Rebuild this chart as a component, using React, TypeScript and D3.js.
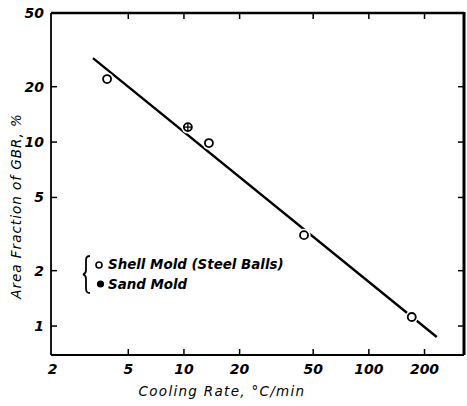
import React from "react";
import * as d3 from "d3";

const coolingRate = [3.84, 10.5, 13.65, 44.6, 170.6];
const gbrFraction = [22.0, 12.06, 9.88, 3.12, 1.12];
const pointKind = ["shell", "both", "shell", "shell", "shell"];
const fitX = [3.22, 233];
const fitY = [28.6, 0.872];
const xTicks = [2, 5, 10, 20, 50, 100, 200];
const yTicks = [1, 2, 5, 10, 20, 50];
const legendLabels = ["Shell Mold (Steel Balls)", "Sand Mold"];

const W = 467, H = 406;
const L = 51, R = 464, T = 13, B = 355;

export default function App() {
  const x = d3.scaleLog().domain([1.91, 327]).range([L, R]);
  const y = d3.scaleLog().domain([0.696, 50.3]).range([B, T]);
  const font = "'DejaVu Sans', sans-serif";
  const line = d3.line<number>().x((_, i) => x(fitX[i])).y((_, i) => y(fitY[i]));
  return (
    <svg width={W} height={H} style={{ position: "absolute", left: 0, top: 0, background: "#fff" }}>
      <rect x={0} y={0} width={W} height={H} fill="#fff" />
      {/* frame */}
      <line x1={L} y1={T} x2={L} y2={B} stroke="#000" strokeWidth={1.8} />
      <line x1={L} y1={B} x2={R} y2={B} stroke="#000" strokeWidth={1.8} />
      <line x1={L} y1={T} x2={R} y2={T} stroke="#000" strokeWidth={2.4} />
      <line x1={R} y1={T - 1} x2={R} y2={B} stroke="#000" strokeWidth={3} />
      {/* ticks */}
      {xTicks.filter((v) => v > 2).map((v) => (
        <g key={"xt" + v}>
          <line x1={x(v)} x2={x(v)} y1={B} y2={B - 6} stroke="#000" strokeWidth={1.5} />
          <line x1={x(v)} x2={x(v)} y1={T} y2={T + 6} stroke="#000" strokeWidth={1.5} />
        </g>
      ))}
      {yTicks.filter((v) => v < 50).map((v) => (
        <g key={"yt" + v}>
          <line x1={L} x2={L + 6} y1={y(v)} y2={y(v)} stroke="#000" strokeWidth={1.5} />
          <line x1={R} x2={R - 6} y1={y(v)} y2={y(v)} stroke="#000" strokeWidth={1.5} />
        </g>
      ))}
      {/* tick labels */}
      {xTicks.map((v) => (
        <text key={"xl" + v} x={x(v) - (v === 2 ? 2 : 0)} y={B + 19} textAnchor="middle" fontFamily={font}
          fontStyle="italic" fontWeight="bold" fontSize={14}>{v}</text>
      ))}
      {yTicks.map((v) => (
        <text key={"yl" + v} x={44} y={y(v) + 5} textAnchor="end" fontFamily={font}
          fontStyle="italic" fontWeight="bold" fontSize={14}>{v}</text>
      ))}
      {/* axis titles */}
      <text x={222} y={396} textAnchor="middle" fontFamily={font} fontStyle="italic" fontSize={13.5}
        letterSpacing={1.3}>Cooling Rate, °C/min</text>
      <text transform="translate(21,206) rotate(-90)" textAnchor="middle" fontFamily={font} fontStyle="italic"
        fontSize={13.5} letterSpacing={1}>Area Fraction of GBR, %</text>
      {/* fit line */}
      <path d={line(fitX) || ""} fill="none" stroke="#000" strokeWidth={2.4} />
      {/* points */}
      {coolingRate.map((c, i) => {
        const cx = x(c), cy = y(gbrFraction[i]);
        return (
          <g key={"p" + i}>
            <circle cx={cx} cy={cy} r={6.5} fill="#fff" />
            <circle cx={cx} cy={cy} r={4} fill="#fff" stroke="#000" strokeWidth={1.8} />
            {pointKind[i] === "both" && (
              <g stroke="#000" strokeWidth={1.3}>
                <line x1={cx - 4} x2={cx + 4} y1={cy} y2={cy} />
                <line x1={cx} x2={cx} y1={cy - 4} y2={cy + 4} />
              </g>
            )}
          </g>
        );
      })}
      {/* legend */}
      <path d="M90,256 C86,256 86,258 86,262 L86,270 C86,273 85,274 83,274.5 C85,275 86,276 86,279 L86,288 C86,292 87,293 90,293"
        fill="none" stroke="#000" strokeWidth={1.8} />
      <circle cx={99} cy={265} r={3} fill="#fff" stroke="#000" strokeWidth={1.6} />
      <circle cx={100.5} cy={284} r={3.6} fill="#000" />
      <text x={108} y={269} fontFamily={font} fontStyle="italic" fontWeight="bold" fontSize={13.4}>{legendLabels[0]}</text>
      <text x={108} y={289} fontFamily={font} fontStyle="italic" fontWeight="bold" fontSize={13.4}>{legendLabels[1]}</text>
    </svg>
  );
}
